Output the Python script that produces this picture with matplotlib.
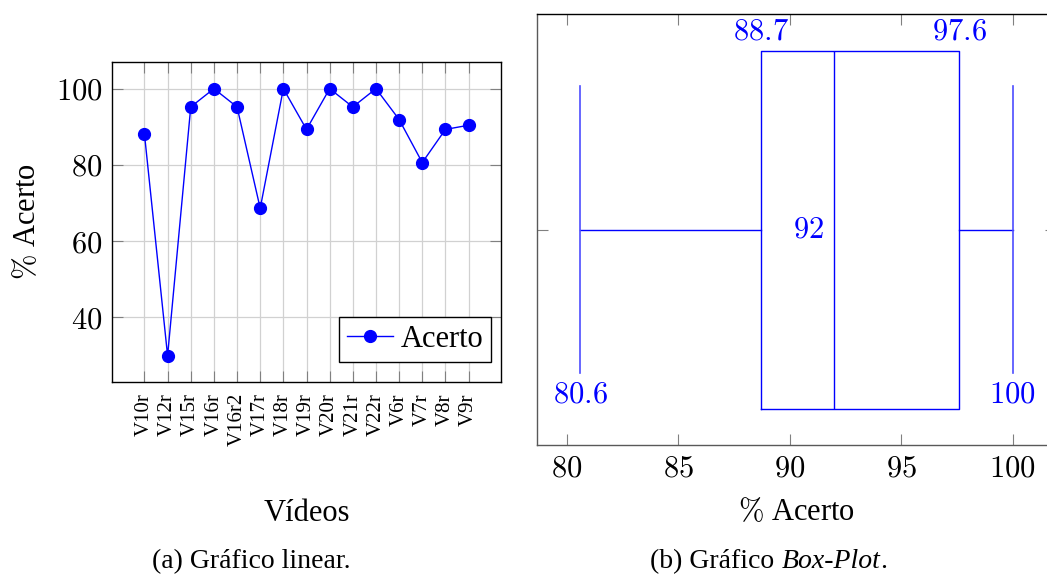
import matplotlib
matplotlib.use("Agg")
import matplotlib.pyplot as plt

plt.rcParams['font.family'] = ['Liberation Serif', 'DejaVu Serif']
plt.rcParams['mathtext.fontset'] = 'cm'

# dados
videos = ["V10r", "V12r", "V15r", "V16r", "V16r2", "V17r", "V18r", "V19r",
          "V20r", "V21r", "V22r", "V6r", "V7r", "V8r", "V9r"]
acerto = [88.1, 29.9, 95.2, 100, 95.2, 68.6, 100, 89.3,
          100, 95.2, 100, 91.9, 80.6, 89.3, 90.4]

# box-plot: minimo, q1, mediana, q3, maximo
bp_min = 80.6
bp_q1 = 88.7
bp_med = 92
bp_q3 = 97.6
bp_max = 100

blue = (0, 0, 1)
fs = 22

fig = plt.figure(figsize=(10.47, 5.74), dpi=100)

# (a) grafico linear
ax1 = fig.add_axes([0.107, 0.3345, 0.3715, 0.5575])
x = list(range(len(videos)))
ax1.plot(x, acerto, color=blue, lw=1, marker='o', ms=8.5, label="Acerto")
ax1.set_xlim(-1.4, len(videos) - 1 + 1.4)
ax1.set_ylim(23, 107)
ax1.set_xticks(x)
ax1.set_xticklabels(videos, rotation=90, fontsize=15)
ax1.set_yticks([40, 60, 80, 100])
ax1.set_yticklabels(["$%d$" % v for v in [40, 60, 80, 100]], fontsize=fs)
ax1.grid(True, color='0.82', lw=0.9)
ax1.set_axisbelow(True)
ax1.tick_params(direction='in', length=8, color='0.5', top=True, right=True, pad=7)
ax1.tick_params(axis='x', pad=8)
for s in ax1.spines.values():
    s.set_color('black')
    s.set_linewidth(1)
ax1.set_xlabel("Vídeos", fontsize=fs, labelpad=38)
ax1.set_ylabel(r"$\%$ Acerto", fontsize=fs, labelpad=10)
leg = ax1.legend(loc='lower right', bbox_to_anchor=(0.9735, 0.0634), borderaxespad=0,
                 fontsize=fs, fancybox=False, edgecolor='black', framealpha=1,
                 handlelength=1.5, handletextpad=0.25, borderpad=0.25)
leg.get_frame().set_linewidth(1)

# (b) box-plot
ax2 = fig.add_axes([0.5127, 0.2247, 0.4958, 0.7503])
stats = [{'whislo': bp_min, 'q1': bp_q1, 'med': bp_med, 'q3': bp_q3, 'whishi': bp_max}]
ax2.bxp(stats, positions=[0], widths=1.664, capwidths=1.33, orientation='horizontal',
        showfliers=False,
        boxprops=dict(color=blue, lw=1),
        whiskerprops=dict(color=blue, lw=1),
        capprops=dict(color=(0.3, 0.3, 1), lw=1.2),
        medianprops=dict(color=blue, lw=1))
ax2.set_xlim(bp_min - 0.1 * (bp_max - bp_min), bp_max + 0.1 * (bp_max - bp_min))
ax2.set_ylim(-1, 1)
ax2.set_yticks([0])
ax2.set_yticklabels([""])
xt = [80, 85, 90, 95, 100]
ax2.set_xticks(xt)
ax2.set_xticklabels(["$%d$" % v for v in xt], fontsize=fs)
ax2.tick_params(direction='in', length=8, color='0.5', top=True, right=True, pad=7)
for k, s in ax2.spines.items():
    s.set_color('0.35' if k in ('left', 'bottom') else 'black')
    s.set_linewidth(1)
ax2.set_xlabel(r"$\%$ Acerto", fontsize=fs, labelpad=10)

ax2.text(bp_q1, 0.85, "$88.7$", color=blue, fontsize=fs, ha='center', va='bottom')
ax2.text(bp_q3, 0.85, "$97.6$", color=blue, fontsize=fs, ha='center', va='bottom')
ax2.text(bp_med - 0.45, 0, "$92$", color=blue, fontsize=fs, ha='right', va='center')
ax2.text(bp_min, -0.7, "$80.6$", color=blue, fontsize=fs, ha='center', va='top')
ax2.text(bp_max, -0.7, "$100$", color=blue, fontsize=fs, ha='center', va='top')

# legendas das figuras
yb = 1 - 568 / 574
fig.text(251 / 1047, yb, "(a) Gráfico linear.", fontsize=20, ha='center', va='baseline')

parts = [("(b) Gráfico ", 'normal'), ("Box-Plot", 'italic'), (".", 'normal')]
fig.canvas.draw()
r = fig.canvas.get_renderer()
txts = [fig.text(0, yb, p, fontsize=20, style=st, va='baseline') for p, st in parts]
widths = [t.get_window_extent(r).width for t in txts]
xpos = 769 - sum(widths) / 2
for t, w in zip(txts, widths):
    t.set_x(xpos / 1047)
    xpos += w

fig.savefig("out.png", dpi=100)
